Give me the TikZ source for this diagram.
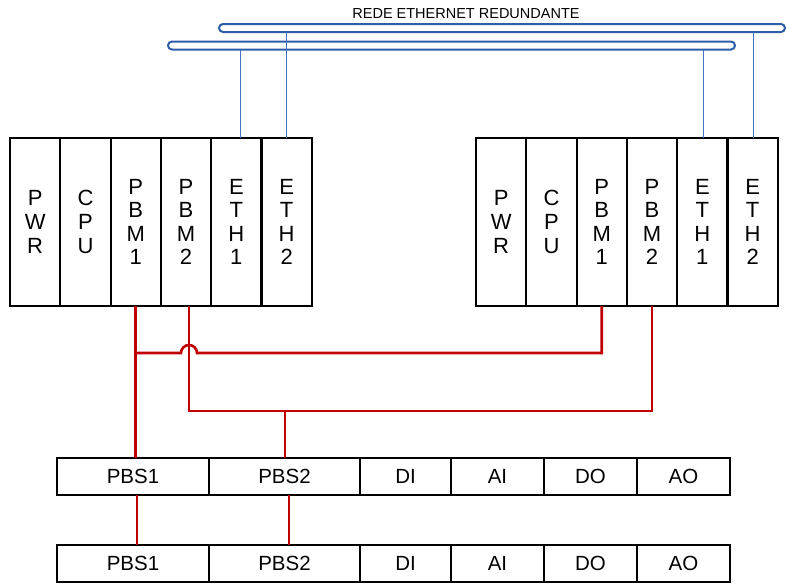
\documentclass[tikz,border=0pt]{standalone}
\usepackage{fontspec}
\setmainfont{Liberation Sans}
\definecolor{busblue}{RGB}{46,94,170}
\definecolor{lineblue}{RGB}{68,114,196}
\definecolor{pbred}{RGB}{192,0,0}
\begin{document}
\begin{tikzpicture}[x=1pt,y=-1pt,
  mod/.style={draw, line width=2.2pt, minimum width=50.3pt, minimum height=168pt, inner sep=0pt, outer sep=0pt, align=center, anchor=north west, font=\fontsize{22}{23.6}\selectfont},
  cell/.style={draw, line width=2.2pt, minimum height=37pt, inner sep=0pt, outer sep=0pt, anchor=north west, font=\fontsize{20.5}{22}\selectfont},
  bus/.style={draw=busblue, line width=2pt, fill=white, rounded corners=4pt, minimum height=8pt, inner sep=0pt, outer sep=0pt, anchor=north west},
  eth/.style={draw=lineblue, line width=1.2pt},
  pb/.style={draw=pbred, line width=2.6pt}]
\useasboundingbox (0,0) rectangle (787,584);
% title
\node[font=\fontsize{14.5}{16}\selectfont, inner sep=0pt] (title) at (466,14) {REDE ETHERNET REDUNDANTE};
% buses
\node[bus, minimum width=566pt] (E1) at (219,24) {};
\node[bus, minimum width=567pt] (E2) at (168,41.5) {};
% left rack
\node[mod] (L1) at (10,138) {P\\W\\R};
\node[mod] (L2) at (60.3,138) {C\\P\\U};
\node[mod] (L3) at (110.6,138) {P\\B\\M\\1};
\node[mod] (L4) at (160.9,138) {P\\B\\M\\2};
\node[mod] (L5) at (211.2,138) {E\\T\\H\\1};
\node[mod] (L6) at (261.5,138) {E\\T\\H\\2};
% right rack
\node[mod] (R1) at (476,138) {P\\W\\R};
\node[mod] (R2) at (526.3,138) {C\\P\\U};
\node[mod] (R3) at (576.6,138) {P\\B\\M\\1};
\node[mod] (R4) at (626.9,138) {P\\B\\M\\2};
\node[mod] (R5) at (677.2,138) {E\\T\\H\\1};
\node[mod] (R6) at (727.5,138) {E\\T\\H\\2};
% rows
\node[cell, minimum width=152pt] (A1) at (57,458) {PBS1};
\node[cell, minimum width=151pt] (A2) at (209,458) {PBS2};
\node[cell, minimum width=91pt] (A3) at (360,458) {DI};
\node[cell, minimum width=93pt] (A4) at (451,458) {AI};
\node[cell, minimum width=93pt] (A5) at (544,458) {DO};
\node[cell, minimum width=93pt] (A6) at (637,458) {AO};
\node[cell, minimum width=152pt] (B1) at (57,545) {PBS1};
\node[cell, minimum width=151pt] (B2) at (209,545) {PBS2};
\node[cell, minimum width=91pt] (B3) at (360,545) {DI};
\node[cell, minimum width=93pt] (B4) at (451,545) {AI};
\node[cell, minimum width=93pt] (B5) at (544,545) {DO};
\node[cell, minimum width=93pt] (B6) at (637,545) {AO};
% ethernet drops
\draw[eth] ([xshift=4pt]L5.north) -- ([xshift=4pt]L5.north |- E2.south);
\draw[eth] (L6.north) -- (L6.north |- E1.south);
\draw[eth] ([xshift=1.5pt]R5.north) -- ([xshift=1.5pt]R5.north |- E2.south);
\draw[eth] ([xshift=1pt]R6.north) -- ([xshift=1pt]R6.north |- E1.south);
% profibus
\coordinate (j1) at (136,353);
\coordinate (j2) at (285,411);
\coordinate (p4) at (189,306);
\draw[pb] (L3.south) -- (L3.south |- A1.north);
\draw[pb] (j1) -- (181,353) arc[start angle=180, end angle=360, radius=8] -- (R3.south |- j1) -- (R3.south);
\draw[pb] (p4) -- (p4 |- j2) -- (R4.south |- j2) -- (R4.south);
\draw[pb] (j2) -- (j2 |- A2.north);
\draw[pb] ([xshift=4pt]A1.south) -- ([xshift=4pt]B1.north);
\draw[pb] ([xshift=4.5pt]A2.south) -- ([xshift=4.5pt]B2.north);
\end{tikzpicture}
\end{document}
